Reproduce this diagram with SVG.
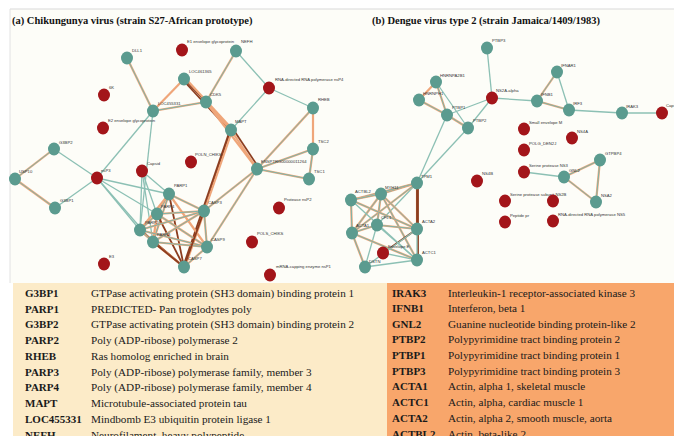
<svg xmlns="http://www.w3.org/2000/svg" width="674" height="436" viewBox="0 0 674 436">
<style>
.t{stroke:#8cc0b4;stroke-width:1.3;fill:none}
.o{stroke:#efa67a;stroke-width:2.2;fill:none}
.b{stroke:#8c3d1f;stroke-width:1.8;fill:none}
.ti{stroke:#7db4a8;stroke-width:1;fill:none}
.nt{fill:#5b9b8f}
.nr{fill:#a3151a}
.lb{font-family:"Liberation Sans",Arial,sans-serif;font-size:4.2px;fill:#333}
.ttl{font-family:"Liberation Serif","Times New Roman",serif;font-size:10.5px;font-weight:bold;fill:#111}
.c1{font-family:"Liberation Serif","Times New Roman",serif;font-size:11px;font-weight:bold;fill:#1a1a1a}
.c2{font-family:"Liberation Serif","Times New Roman",serif;font-size:11.2px;fill:#1a1a1a}
</style>
<rect x="0" y="0" width="674" height="436" fill="#ffffff"/>
<rect x="10" y="9" width="664" height="274" fill="#fdfdf8"/>
<line x1="10" y1="9" x2="674" y2="9" stroke="#d9d9d9" stroke-width="1"/>
<line x1="10" y1="9" x2="10" y2="283" stroke="#e2e2e2" stroke-width="1"/>
<rect x="13" y="283" width="374" height="153" fill="#fcebc8"/>
<rect x="387" y="283" width="287" height="153" fill="#f8a66b"/>
<text class="ttl" x="12" y="24">(a) Chikungunya virus (strain S27-African prototype)</text>
<text class="ttl" x="372" y="24">(b) Dengue virus type 2 (strain Jamaica/1409/1983)</text>
<g id="connectors">
<!-- left network -->
<line class="o" x1="127" y1="58" x2="153" y2="111"/><line class="ti" x1="127" y1="58" x2="153" y2="111"/>
<line class="o" x1="153" y1="111" x2="184" y2="79"/>
<line class="o" x1="153" y1="111" x2="206" y2="102"/><line class="ti" x1="153" y1="111" x2="206" y2="102"/>
<line class="b" x1="184" y1="79" x2="206" y2="102" stroke-width="2.4"/>
<line class="o" x1="186" y1="79" x2="233" y2="130"/><line class="b" x1="183" y1="80" x2="230" y2="131"/>
<line class="o" x1="206" y1="102" x2="236" y2="51"/><line class="ti" x1="206" y1="102" x2="236" y2="51"/>
<line class="t" x1="236" y1="51" x2="269" y2="88"/>
<line class="t" x1="269" y1="88" x2="313" y2="108"/>
<line class="t" x1="269" y1="88" x2="231" y2="130"/>
<line class="o" x1="206" y1="102" x2="231" y2="130"/>
<line class="o" x1="231" y1="130" x2="257" y2="169"/><line class="b" x1="233" y1="129" x2="259" y2="168" stroke-width="1"/>
<line class="o" x1="206" y1="102" x2="257" y2="169"/>
<line class="o" x1="313" y1="108" x2="313" y2="149"/>
<line class="o" x1="313" y1="108" x2="257" y2="169"/><line class="ti" x1="313" y1="108" x2="257" y2="169"/>
<line class="o" x1="313" y1="149" x2="309" y2="179"/><line class="ti" x1="313" y1="149" x2="309" y2="179"/>
<line class="o" x1="313" y1="149" x2="257" y2="169"/><line class="ti" x1="313" y1="149" x2="257" y2="169"/>
<line class="o" x1="309" y1="179" x2="257" y2="169"/><line class="ti" x1="309" y1="179" x2="257" y2="169"/>
<line class="t" x1="153" y1="111" x2="97" y2="178"/>
<line class="t" x1="153" y1="111" x2="140" y2="230"/>
<line class="o" x1="54" y1="149" x2="15" y2="179" stroke="#e57a66"/><line class="ti" x1="54" y1="149" x2="15" y2="179"/>
<line class="o" x1="15" y1="179" x2="55" y2="208" stroke="#e57a66"/><line class="ti" x1="15" y1="179" x2="55" y2="208"/>
<line class="t" x1="54" y1="149" x2="97" y2="178"/>
<line class="t" x1="55" y1="208" x2="97" y2="178"/>
<line class="t" x1="97" y1="178" x2="169" y2="194"/>
<line class="t" x1="97" y1="178" x2="157" y2="214"/>
<line class="t" x1="97" y1="178" x2="140" y2="230"/>
<line class="t" x1="97" y1="178" x2="153" y2="242"/>
<line class="t" x1="142" y1="171" x2="169" y2="194"/>
<line class="t" x1="142" y1="171" x2="157" y2="214"/>
<line class="t" x1="142" y1="171" x2="140" y2="230"/>
<line class="t" x1="142" y1="171" x2="153" y2="242"/>
<line class="b" x1="231" y1="130" x2="204" y2="211"/>
<line class="o" x1="232" y1="131" x2="185" y2="267" stroke-width="1.5"/><line class="b" x1="230" y1="130" x2="183" y2="267" stroke-width="1.2"/>
<line class="o" x1="257" y1="169" x2="204" y2="211"/><line class="ti" x1="257" y1="169" x2="204" y2="211"/>
<line class="o" x1="257" y1="169" x2="207" y2="247"/><line class="ti" x1="257" y1="169" x2="207" y2="247"/>
<!-- clique -->
<line class="o" x1="169" y1="194" x2="204" y2="211"/><line class="ti" x1="169" y1="194" x2="204" y2="211"/>
<line class="o" x1="169" y1="194" x2="207" y2="247"/>
<line class="b" x1="169" y1="194" x2="184" y2="267" stroke-width="1.2"/>
<line class="o" x1="169" y1="194" x2="157" y2="214"/><line class="ti" x1="169" y1="194" x2="157" y2="214"/>
<line class="o" x1="169" y1="194" x2="140" y2="230"/>
<line class="o" x1="169" y1="194" x2="153" y2="242"/><line class="ti" x1="169" y1="194" x2="153" y2="242"/>
<line class="o" x1="157" y1="214" x2="204" y2="211"/><line class="ti" x1="157" y1="214" x2="204" y2="211"/>
<line class="o" x1="157" y1="214" x2="207" y2="247"/><line class="ti" x1="157" y1="214" x2="207" y2="247"/>
<line class="b" x1="157" y1="214" x2="184" y2="267" stroke-width="1.1"/>
<line class="o" x1="157" y1="214" x2="140" y2="230"/><line class="ti" x1="157" y1="214" x2="140" y2="230"/>
<line class="o" x1="157" y1="214" x2="153" y2="242"/>
<line class="o" x1="140" y1="230" x2="204" y2="211"/><line class="ti" x1="140" y1="230" x2="204" y2="211"/>
<line class="o" x1="140" y1="230" x2="207" y2="247"/><line class="ti" x1="140" y1="230" x2="207" y2="247"/>
<line class="o" x1="140" y1="230" x2="184" y2="267"/><line class="b" x1="140" y1="230" x2="184" y2="267" stroke-width="0.9"/>
<line class="o" x1="140" y1="230" x2="153" y2="242"/><line class="ti" x1="140" y1="230" x2="153" y2="242"/>
<line class="o" x1="153" y1="242" x2="204" y2="211"/><line class="ti" x1="153" y1="242" x2="204" y2="211"/>
<line class="o" x1="153" y1="242" x2="207" y2="247"/><line class="ti" x1="153" y1="242" x2="207" y2="247"/>
<line class="o" x1="153" y1="242" x2="184" y2="267"/><line class="b" x1="153" y1="242" x2="184" y2="267" stroke-width="0.9"/>
<line class="o" x1="204" y1="211" x2="207" y2="247"/><line class="ti" x1="204" y1="211" x2="207" y2="247"/>
<line class="b" x1="204" y1="211" x2="184" y2="267" stroke-width="1.2"/>
<line class="o" x1="207" y1="247" x2="184" y2="267"/><line class="ti" x1="207" y1="247" x2="184" y2="267"/>
<!-- right network -->
<line class="t" x1="487" y1="48" x2="492" y2="98"/>
<line class="t" x1="492" y1="98" x2="447" y2="115"/>
<line class="t" x1="492" y1="98" x2="468" y2="128"/>
<line class="t" x1="492" y1="98" x2="537" y2="101"/>
<line class="o" x1="436" y1="82" x2="419" y2="100"/>
<line class="o" x1="436" y1="82" x2="447" y2="115"/><line class="ti" x1="436" y1="82" x2="447" y2="115"/>
<line class="o" x1="419" y1="100" x2="447" y2="115"/><line class="ti" x1="419" y1="100" x2="447" y2="115"/>
<line class="t" x1="436" y1="82" x2="468" y2="128"/>
<line class="o" x1="447" y1="115" x2="468" y2="128" stroke-width="1.8"/><line class="ti" x1="447" y1="115" x2="468" y2="128"/>
<line class="t" x1="447" y1="115" x2="417" y2="183"/>
<line class="t" x1="468" y1="128" x2="417" y2="183"/>
<line class="o" x1="537" y1="101" x2="557" y2="72"/><line class="ti" x1="537" y1="101" x2="557" y2="72"/>
<line class="o" x1="537" y1="101" x2="569" y2="110" stroke="#e8b070"/><line class="ti" x1="537" y1="101" x2="569" y2="110"/>
<line class="t" x1="557" y1="72" x2="569" y2="110"/>
<line class="t" x1="569" y1="110" x2="622" y2="113"/>
<line class="t" x1="622" y1="113" x2="662" y2="113"/>
<line class="o" x1="564" y1="177" x2="600" y2="160" stroke="#e57a66"/><line class="ti" x1="564" y1="177" x2="600" y2="160"/>
<line class="o" x1="564" y1="177" x2="596" y2="202" stroke="#e57a66"/><line class="ti" x1="564" y1="177" x2="596" y2="202"/>
<line class="o" x1="600" y1="160" x2="596" y2="202" stroke="#e57a66"/><line class="ti" x1="600" y1="160" x2="596" y2="202"/>
<line class="t" x1="524" y1="172" x2="564" y2="177"/>
<!-- actin cluster -->
<line class="o" x1="417" y1="183" x2="381" y2="194" stroke="#e57a66"/><line class="ti" x1="417" y1="183" x2="381" y2="194"/>
<line class="o" x1="417" y1="183" x2="351" y2="200" stroke="#e57a66"/><line class="ti" x1="417" y1="183" x2="351" y2="200"/>
<line class="t" x1="417" y1="183" x2="377" y2="225"/>
<line class="o" x1="417" y1="183" x2="417" y2="229"/><line class="b" x1="417" y1="183" x2="417" y2="229" stroke-width="1"/>
<line class="b" x1="418" y1="183" x2="418" y2="260" stroke-width="1"/>
<line class="o" x1="417" y1="183" x2="352" y2="233"/><line class="ti" x1="417" y1="183" x2="352" y2="233"/>
<line class="o" x1="381" y1="194" x2="417" y2="229" stroke="#e57a66"/><line class="ti" x1="381" y1="194" x2="417" y2="229"/>
<line class="o" x1="381" y1="194" x2="417" y2="260" stroke-width="1.6"/><line class="ti" x1="381" y1="194" x2="417" y2="260"/>
<line class="o" x1="381" y1="194" x2="377" y2="225" stroke="#e57a66"/><line class="ti" x1="381" y1="194" x2="377" y2="225"/>
<line class="o" x1="381" y1="194" x2="351" y2="200" stroke="#e57a66"/><line class="ti" x1="381" y1="194" x2="351" y2="200"/>
<line class="o" x1="381" y1="194" x2="352" y2="233"/><line class="ti" x1="381" y1="194" x2="352" y2="233"/>
<line class="o" x1="377" y1="225" x2="417" y2="229" stroke="#e57a66"/><line class="ti" x1="377" y1="225" x2="417" y2="229"/>
<line class="t" x1="377" y1="225" x2="417" y2="260"/>
<line class="o" x1="377" y1="225" x2="352" y2="233" stroke="#e57a66"/><line class="ti" x1="377" y1="225" x2="352" y2="233"/>
<line class="t" x1="377" y1="225" x2="365" y2="267"/>
<line class="t" x1="417" y1="229" x2="417" y2="260" stroke-width="1.6"/>
<line class="b" x1="417" y1="229" x2="383" y2="253" stroke="#2f4d40" stroke-width="1.1"/>
<line class="t" x1="383" y1="253" x2="417" y2="260"/>
<line class="o" x1="351" y1="200" x2="417" y2="229" stroke-width="1.6"/><line class="ti" x1="351" y1="200" x2="417" y2="229"/>
<line class="o" x1="351" y1="200" x2="352" y2="233" stroke="#e57a66"/><line class="ti" x1="351" y1="200" x2="352" y2="233"/>
<line class="t" x1="351" y1="200" x2="417" y2="260"/>
<line class="o" x1="352" y1="233" x2="417" y2="260" stroke="#e57a66"/><line class="ti" x1="352" y1="233" x2="417" y2="260"/>
<line class="o" x1="352" y1="233" x2="365" y2="267" stroke="#e57a66"/><line class="ti" x1="352" y1="233" x2="365" y2="267"/>
<line class="t" x1="365" y1="267" x2="417" y2="260"/>
<line class="t" x1="365" y1="267" x2="417" y2="229"/>
</g>
<!-- left nodes -->
<g id="DLL1"><ellipse class="nt" cx="127" cy="58" rx="6" ry="6.5"/><text class="lb" x="132" y="52">DLL1</text></g>
<g id="E1_envelope_glycoprotein"><ellipse class="nr" cx="182" cy="50" rx="6" ry="6.5"/><text class="lb" x="187" y="43">E1 envelope glycoprotein</text></g>
<g id="NEFH"><ellipse class="nt" cx="236" cy="51" rx="6" ry="6.5"/><text class="lb" x="241" y="43">NEFH</text></g>
<g id="LOC461365"><ellipse class="nt" cx="184" cy="79" rx="6" ry="6.5"/><text class="lb" x="189" y="73">LOC461365</text></g>
<g id="6K"><ellipse class="nr" cx="104" cy="95" rx="6" ry="6.5"/><text class="lb" x="109" y="89">6K</text></g>
<g id="nsP4"><ellipse class="nr" cx="269" cy="88" rx="6" ry="6.5"/><text class="lb" x="275" y="81">RNA-directed RNA polymerase nsP4</text></g>
<g id="LOC455331"><ellipse class="nt" cx="153" cy="111" rx="6" ry="6.5"/><text class="lb" x="158" y="105">LOC455331</text></g>
<g id="CDK5"><ellipse class="nt" cx="206" cy="102" rx="6" ry="6.5"/><text class="lb" x="210" y="96">CDK5</text></g>
<g id="RHEB"><ellipse class="nt" cx="313" cy="108" rx="6" ry="6.5"/><text class="lb" x="318" y="101">RHEB</text></g>
<g id="E2_envelope_glycoprotein"><ellipse class="nr" cx="103" cy="128" rx="6" ry="6.5"/><text class="lb" x="108" y="122">E2 envelope glycoprotein</text></g>
<g id="MAPT"><ellipse class="nt" cx="231" cy="130" rx="6" ry="6.5"/><text class="lb" x="235" y="123">MAPT</text></g>
<g id="TSC2"><ellipse class="nt" cx="313" cy="149" rx="6" ry="6.5"/><text class="lb" x="318" y="143">TSC2</text></g>
<g id="G3BP2"><ellipse class="nt" cx="54" cy="149" rx="6" ry="6.5"/><text class="lb" x="59" y="144">G3BP2</text></g>
<g id="POLN_CHIKS_a"><ellipse class="nr" cx="191" cy="162" rx="6" ry="6.5"/><text class="lb" x="195" y="156">POLN_CHIKS</text></g>
<g id="ENSPTRG00000011264"><ellipse class="nt" cx="257" cy="169" rx="6" ry="6.5"/><text class="lb" x="261" y="163">ENSPTRG00000011264</text></g>
<g id="Capsid_a"><ellipse class="nr" cx="142" cy="171" rx="6" ry="6.5"/><text class="lb" x="147" y="165">Capsid</text></g>
<g id="nsP3"><ellipse class="nr" cx="97" cy="178" rx="6" ry="6.5"/><text class="lb" x="101" y="172">nsP3</text></g>
<g id="USP10"><ellipse class="nt" cx="15" cy="179" rx="6" ry="6.5"/><text class="lb" x="19" y="173">USP10</text></g>
<g id="TSC1"><ellipse class="nt" cx="309" cy="179" rx="6" ry="6.5"/><text class="lb" x="314" y="173">TSC1</text></g>
<g id="PARP1"><ellipse class="nt" cx="169" cy="194" rx="6" ry="6.5"/><text class="lb" x="174" y="187">PARP1</text></g>
<g id="G3BP1"><ellipse class="nt" cx="55" cy="208" rx="6" ry="6.5"/><text class="lb" x="60" y="202">G3BP1</text></g>
<g id="Protease_nsP2"><ellipse class="nr" cx="279" cy="208" rx="6" ry="6.5"/><text class="lb" x="284" y="201">Protease nsP2</text></g>
<g id="CASP3"><ellipse class="nt" cx="204" cy="211" rx="6" ry="6.5"/><text class="lb" x="208" y="204">CASP3</text></g>
<g id="PARP4"><ellipse class="nt" cx="157" cy="214" rx="6" ry="6.5"/><text class="lb" x="161" y="208">PARP4</text></g>
<g id="PARP2"><ellipse class="nt" cx="140" cy="230" rx="6" ry="6.5"/><text class="lb" x="145" y="224">PARP2</text></g>
<g id="PARP3"><ellipse class="nt" cx="153" cy="242" rx="6" ry="6.5"/><text class="lb" x="157" y="236">PARP3</text></g>
<g id="POLS_CHIKS"><ellipse class="nr" cx="252" cy="242" rx="6" ry="6.5"/><text class="lb" x="257" y="235">POLS_CHIKS</text></g>
<g id="CASP9"><ellipse class="nt" cx="207" cy="247" rx="6" ry="6.5"/><text class="lb" x="211" y="241">CASP9</text></g>
<g id="E3"><ellipse class="nr" cx="104" cy="264" rx="6" ry="6.5"/><text class="lb" x="109" y="258">E3</text></g>
<g id="CASP7"><ellipse class="nt" cx="184" cy="267" rx="6" ry="6.5"/><text class="lb" x="188" y="260">CASP7</text></g>
<g id="mRNA_capping_enzyme_nsP1"><ellipse class="nr" cx="270" cy="275" rx="6" ry="6.5"/><text class="lb" x="276" y="268">mRNA-capping enzyme nsP1</text></g>
<!-- right nodes -->
<g id="PTBP3_n"><ellipse class="nt" cx="487" cy="48" rx="6" ry="6.5"/><text class="lb" x="492" y="42">PTBP3</text></g>
<g id="IFNAR1"><ellipse class="nt" cx="557" cy="72" rx="6" ry="6.5"/><text class="lb" x="561" y="67">IFNAR1</text></g>
<g id="HNRNPA2B1"><ellipse class="nt" cx="436" cy="82" rx="6" ry="6.5"/><text class="lb" x="440" y="77">HNRNPA2B1</text></g>
<g id="NS2A_alpha"><ellipse class="nr" cx="492" cy="98" rx="6" ry="6.5"/><text class="lb" x="496" y="92">NS2A-alpha</text></g>
<g id="HNRNPH1"><ellipse class="nt" cx="419" cy="100" rx="6" ry="6.5"/><text class="lb" x="423" y="95">HNRNPH1</text></g>
<g id="IFNB1_n"><ellipse class="nt" cx="537" cy="101" rx="6" ry="6.5"/><text class="lb" x="541" y="96">IFNB1</text></g>
<g id="IRF3"><ellipse class="nt" cx="569" cy="110" rx="6" ry="6.5"/><text class="lb" x="573" y="105">IRF3</text></g>
<g id="IRAK3_n"><ellipse class="nt" cx="622" cy="113" rx="6" ry="6.5"/><text class="lb" x="626" y="108">IRAK3</text></g>
<g id="Capsid_b"><ellipse class="nr" cx="662" cy="113" rx="6" ry="6.5"/><text class="lb" x="666" y="107">Capsid</text></g>
<g id="PTBP1_n"><ellipse class="nt" cx="447" cy="115" rx="6" ry="6.5"/><text class="lb" x="452" y="109">PTBP1</text></g>
<g id="PTBP2_n"><ellipse class="nt" cx="468" cy="128" rx="6" ry="6.5"/><text class="lb" x="473" y="122">PTBP2</text></g>
<g id="Small_envelope_M"><ellipse class="nr" cx="524" cy="129" rx="6" ry="6.5"/><text class="lb" x="529" y="124">Small envelope M</text></g>
<g id="NS4A"><ellipse class="nr" cx="572" cy="138" rx="6" ry="6.5"/><text class="lb" x="577" y="133">NS4A</text></g>
<g id="POLG_DEN2J"><ellipse class="nr" cx="524" cy="150" rx="6" ry="6.5"/><text class="lb" x="529" y="145">POLG_DEN2J</text></g>
<g id="GTPBP4"><ellipse class="nt" cx="600" cy="160" rx="6" ry="6.5"/><text class="lb" x="605" y="155">GTPBP4</text></g>
<g id="Serine_protease_NS3"><ellipse class="nr" cx="524" cy="172" rx="6" ry="6.5"/><text class="lb" x="529" y="167">Serine protease NS3</text></g>
<g id="GNL2_n"><ellipse class="nt" cx="564" cy="177" rx="6" ry="6.5"/><text class="lb" x="569" y="172">GNL2</text></g>
<g id="NS4B"><ellipse class="nr" cx="477" cy="181" rx="6" ry="6.5"/><text class="lb" x="482" y="175">NS4B</text></g>
<g id="TPM1"><ellipse class="nt" cx="417" cy="183" rx="6" ry="6.5"/><text class="lb" x="421" y="178">TPM1</text></g>
<g id="MYH11"><ellipse class="nt" cx="381" cy="194" rx="6" ry="6.5"/><text class="lb" x="385" y="189">MYH11</text></g>
<g id="ACTBL2_n"><ellipse class="nt" cx="351" cy="200" rx="6" ry="6.5"/><text class="lb" x="355" y="193">ACTBL2</text></g>
<g id="Serine_protease_subunit_NS2B"><ellipse class="nr" cx="505" cy="201" rx="6" ry="6.5"/><text class="lb" x="510" y="196">Serine protease subunit NS2B</text></g>
<g id="red_553_201"><ellipse class="nr" cx="553" cy="201" rx="6" ry="6.5"/></g>
<g id="NSA2"><ellipse class="nt" cx="596" cy="202" rx="6" ry="6.5"/><text class="lb" x="601" y="197">NSA2</text></g>
<g id="Peptide_pr"><ellipse class="nr" cx="505" cy="222" rx="6" ry="6.5"/><text class="lb" x="510" y="217">Peptide pr</text></g>
<g id="RNA_directed_NS5"><ellipse class="nr" cx="553" cy="221" rx="6" ry="6.5"/><text class="lb" x="558" y="216">RNA-directed RNA polymerase NS5</text></g>
<g id="CFL1"><ellipse class="nt" cx="377" cy="225" rx="6" ry="6.5"/><text class="lb" x="381" y="219">CFL1</text></g>
<g id="ACTA2_n"><ellipse class="nt" cx="417" cy="229" rx="6" ry="6.5"/><text class="lb" x="422" y="223">ACTA2</text></g>
<g id="ACTA1_n"><ellipse class="nt" cx="352" cy="233" rx="6" ry="6.5"/><text class="lb" x="356" y="227">ACTA1</text></g>
<g id="Envelope_E"><ellipse class="nr" cx="383" cy="253" rx="6" ry="6.5"/><text class="lb" x="388" y="248">Envelope E</text></g>
<g id="ACTC1_n"><ellipse class="nt" cx="417" cy="260" rx="6" ry="6.5"/><text class="lb" x="422" y="254">ACTC1</text></g>
<g id="DSTN"><ellipse class="nt" cx="365" cy="267" rx="6" ry="6.5"/><text class="lb" x="369" y="263">DSTN</text></g>
<!-- left table -->
<g id="table_a">
<text class="c1" x="25" y="297">G3BP1</text><text class="c2" x="91" y="297">GTPase activating protein (SH3 domain) binding protein 1</text>
<text class="c1" x="25" y="313">PARP1</text><text class="c2" x="91" y="313">PREDICTED- Pan troglodytes poly</text>
<text class="c1" x="25" y="328">G3BP2</text><text class="c2" x="91" y="328">GTPase activating protein (SH3 domain) binding protein 2</text>
<text class="c1" x="25" y="344">PARP2</text><text class="c2" x="91" y="344">Poly (ADP-ribose) polymerase 2</text>
<text class="c1" x="25" y="360">RHEB</text><text class="c2" x="91" y="360">Ras homolog enriched in brain</text>
<text class="c1" x="25" y="376">PARP3</text><text class="c2" x="91" y="376">Poly (ADP-ribose) polymerase family, member 3</text>
<text class="c1" x="25" y="391">PARP4</text><text class="c2" x="91" y="391">Poly (ADP-ribose) polymerase family, member 4</text>
<text class="c1" x="25" y="407">MAPT</text><text class="c2" x="91" y="407">Microtubule-associated protein tau</text>
<text class="c1" x="25" y="423">LOC455331</text><text class="c2" x="91" y="423">Mindbomb E3 ubiquitin protein ligase 1</text>
<text class="c1" x="25" y="439">NEFH</text><text class="c2" x="91" y="439">Neurofilament, heavy polypeptide</text>
</g>
<!-- right table -->
<g id="table_b">
<text class="c1" x="392" y="297">IRAK3</text><text class="c2" x="448" y="297">Interleukin-1 receptor-associated kinase 3</text>
<text class="c1" x="392" y="312">IFNB1</text><text class="c2" x="448" y="312">Interferon, beta 1</text>
<text class="c1" x="392" y="328">GNL2</text><text class="c2" x="448" y="328">Guanine nucleotide binding protein-like 2</text>
<text class="c1" x="392" y="343">PTBP2</text><text class="c2" x="448" y="343">Polypyrimidine tract binding protein 2</text>
<text class="c1" x="392" y="359">PTBP1</text><text class="c2" x="448" y="359">Polypyrimidine tract binding protein 1</text>
<text class="c1" x="392" y="375">PTBP3</text><text class="c2" x="448" y="375">Polypyrimidine tract binding protein 3</text>
<text class="c1" x="392" y="390">ACTA1</text><text class="c2" x="448" y="390">Actin, alpha 1, skeletal muscle</text>
<text class="c1" x="392" y="406">ACTC1</text><text class="c2" x="448" y="406">Actin, alpha, cardiac muscle 1</text>
<text class="c1" x="392" y="422">ACTA2</text><text class="c2" x="448" y="422">Actin, alpha 2, smooth muscle, aorta</text>
<text class="c1" x="392" y="438">ACTBL2</text><text class="c2" x="448" y="438">Actin, beta-like 2</text>
</g>
</svg>
